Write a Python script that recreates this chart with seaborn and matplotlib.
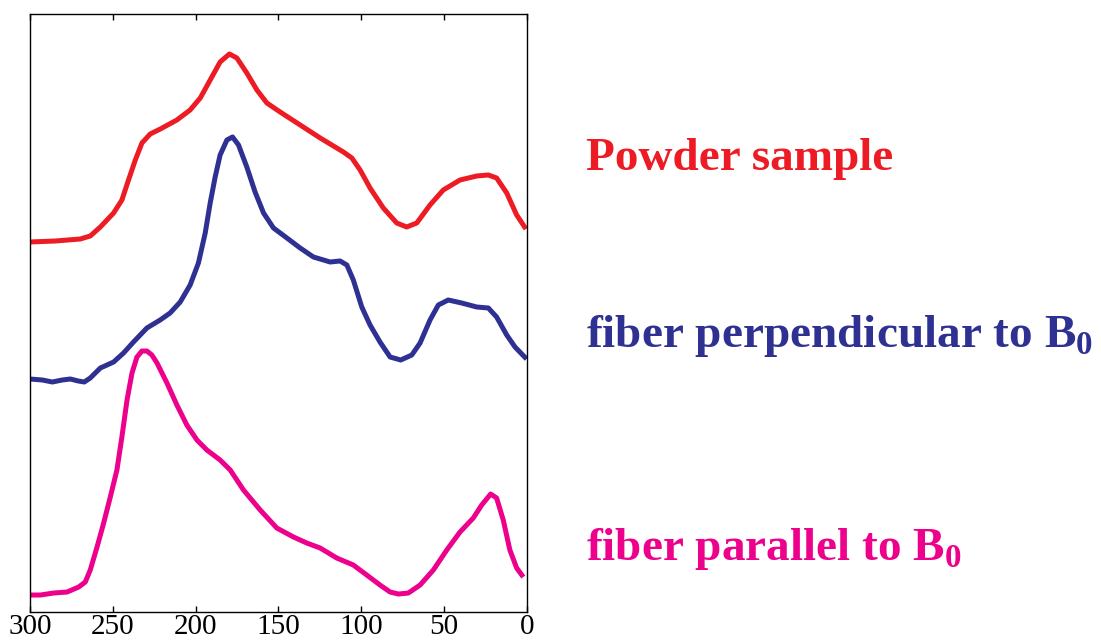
import numpy as np
import pandas as pd
import matplotlib
matplotlib.use("Agg")
import matplotlib.pyplot as plt
import seaborn as sns

# chemical shift (ppm) and intensity (arbitrary, offset per trace)
powder_ppm = [300, 284.7, 269.6, 263.6, 257.5, 249.5, 244.5, 240.5, 236.4, 232.4,
              227.4, 221.3, 211.3, 203.3, 197.2, 191.2, 185.2, 179.6, 175.1, 169.1,
              163.0, 157.0, 149.0, 136.9, 124.8, 110.8, 105.7, 100.7, 94.7, 86.7,
              78.6, 72.6, 66.5, 58.5, 50.5, 40.4, 30.3, 23.3, 18.3, 12.2,
              6.2, 0.6]
powder_int = [370, 371, 373, 376, 385, 399, 412, 432, 452, 469,
              478, 483, 492, 502, 514, 532, 550, 558, 554, 539,
              522, 509, 500, 487, 474, 460, 454, 442, 424, 404,
              389, 385, 389, 407, 422, 432, 436, 437, 434, 419,
              397, 383]

perp_ppm = [300, 292.5, 286.5, 280.5, 275.6, 270.8, 267.2, 263.6, 257.5, 249.5,
            243.5, 237.5, 229.4, 221.4, 215.4, 209.3, 203.3, 198.3, 194.2, 191.2,
            188.2, 185.2, 181.1, 177.7, 174.1, 169.1, 164.1, 159.0, 153.0, 144.9,
            136.9, 128.9, 118.8, 112.8, 108.7, 104.8, 99.7, 94.7, 88.7, 82.6,
            76.2, 69.5, 64.5, 58.5, 53.5, 47.5, 39.4, 30.3, 23.3, 18.3,
            12.2, 7.2, 0.2]
perp_int = [233, 232, 230, 232, 233, 231, 230, 234, 244, 250,
            259, 270, 284, 292, 299, 310, 327, 349, 379, 409,
            435, 457, 472, 475, 467, 445, 420, 399, 384, 374,
            364, 355, 350, 351, 347, 332, 305, 287, 270, 255,
            252, 257, 269, 292, 307, 312, 309, 305, 304, 295,
            277, 265, 253]

par_ppm = [300, 293.7, 285.7, 277.6, 270.6, 266.6, 263.6, 259.5, 255.5, 251.5,
           247.5, 244.5, 241.4, 238.4, 235.4, 232.4, 229.4, 226.4, 223.3, 217.3,
           211.3, 205.3, 199.2, 193.2, 185.2, 179.1, 171.1, 161.0, 151.0, 140.9,
           132.9, 124.8, 114.8, 104.8, 96.7, 88.7, 82.6, 77.6, 71.6, 64.5,
           56.5, 48.4, 40.4, 32.4, 27.3, 21.9, 18.3, 14.3, 10.3, 6.2,
           2.2]
par_int = [17, 17, 19, 20, 25, 30, 42, 65, 89, 115,
           142, 175, 212, 239, 255, 261, 261, 257, 249, 229,
           207, 187, 172, 162, 152, 142, 122, 102, 84, 75,
           69, 64, 54, 47, 37, 27, 20, 18, 19, 27,
           42, 62, 80, 94, 107, 118, 114, 92, 62, 44,
           35]

labels = ["Powder sample",
          r"fiber perpendicular to B$_\mathbf{0}$",
          r"fiber parallel to B$_\mathbf{0}$"]
colors = ["#ED1C24", "#2E3192", "#EC008C"]
xticks = [300, 250, 200, 150, 100, 50, 0]

sns.set_style("ticks")
plt.rcParams["font.family"] = ["Liberation Serif", "DejaVu Serif"]
plt.rcParams["mathtext.fontset"] = "custom"
plt.rcParams["mathtext.rm"] = "Liberation Serif:bold"
plt.rcParams["mathtext.bf"] = "Liberation Serif:bold"

fig = plt.figure(figsize=(11.01, 6.41), dpi=100)
ax = fig.add_axes([0.0272, 0.0452, 0.4514, 0.9330])

traces = [(powder_ppm, powder_int), (perp_ppm, perp_int), (par_ppm, par_int)]
for (x, y), c in zip(traces, colors):
    df = pd.DataFrame({"ppm": x, "intensity": y})
    sns.lineplot(data=df, x="ppm", y="intensity", ax=ax, color=c,
                 linewidth=3.6, solid_joinstyle="round", solid_capstyle="butt")

ax.set_xlim(300, 0)
ax.set_ylim(0, 598)
ax.set_xticks(xticks)
ax.set_xticklabels([str(t) for t in xticks])
ax.set_yticks([])
ax.set_xlabel("")
ax.set_ylabel("")
ax.tick_params(axis="x", direction="in", top=True, length=4.5, width=1,
               labelsize=21, pad=1.5, colors="black")
for s in ax.spines.values():
    s.set_visible(True)
    s.set_linewidth(1.0)
    s.set_color("black")

ys = [0.7348, 0.459, 0.1264]
for lab, c, yy in zip(labels, colors, ys):
    fig.text(0.532, yy, lab, color=c, fontsize=34, fontweight="bold",
             va="baseline", ha="left")

fig.savefig("out.png", dpi=100)
